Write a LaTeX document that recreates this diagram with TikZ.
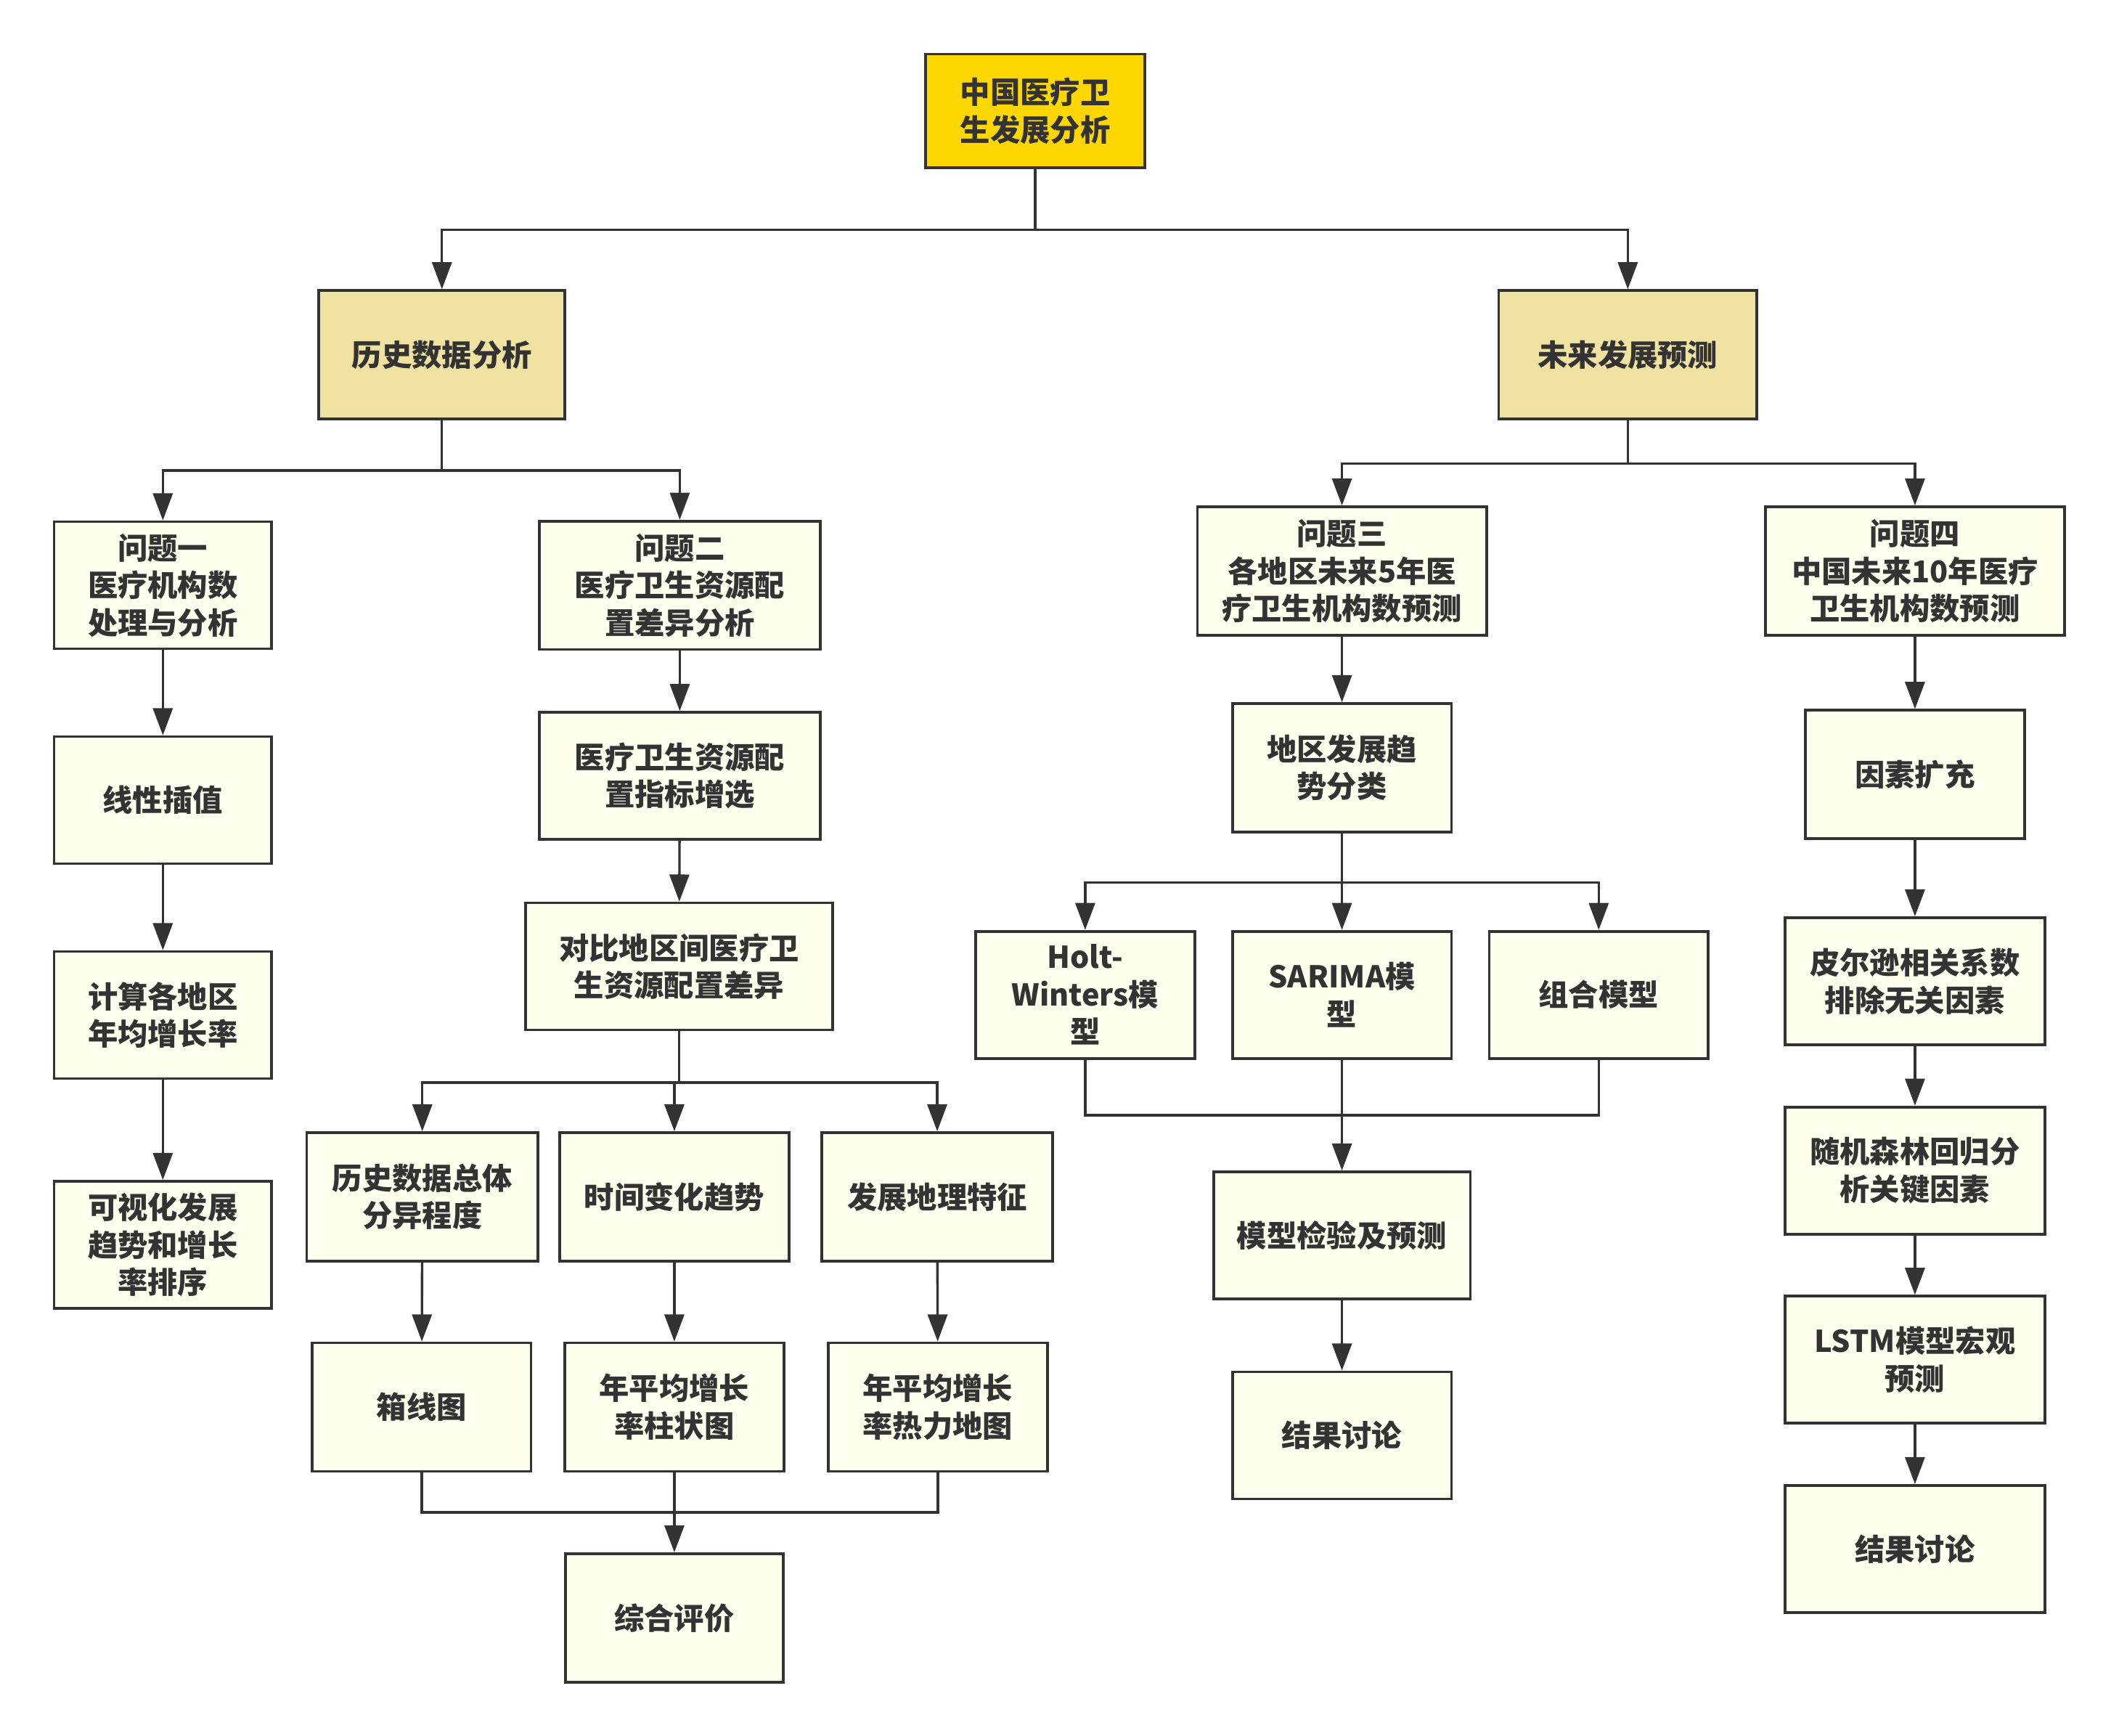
\documentclass[tikz,border=0pt]{standalone}
\usepackage{fontspec}
\newfontfamily\cjk{Noto Sans CJK SC}
\usetikzlibrary{arrows.meta}
\definecolor{ink}{HTML}{333333}
\definecolor{boxfill}{HTML}{FFFFEE}
\definecolor{rootfill}{HTML}{FFD700}
\definecolor{secfill}{HTML}{F0E2A0}
\tikzset{
  box/.style={draw=ink, line width=2pt, fill=boxfill, text=ink, align=center,
    inner sep=0pt, font=\cjk\bfseries\fontsize{22.2}{27.7}\selectfont},
  conn/.style={draw=ink, line width=1.8pt},
  arr/.style={conn, -{Triangle[length=20pt,width=14.5pt]}},
}
\newcommand{\bx}[6][box]{\node[#1, minimum width=#4pt, minimum height=#5pt] (#2) at (#3) {#6};}
\begin{document}
\begin{tikzpicture}[x=1pt,y=-1pt]
\useasboundingbox (0,0) rectangle (1568,1284);
% nodes
\bx[box,fill=rootfill]{root}{766,82}{162}{84}{中国医疗卫\\生发展分析}
\bx[box,fill=secfill]{hist}{327,262.5}{182}{95}{历史数据分析}
\bx[box,fill=secfill]{fut}{1204.5,262.5}{191}{95}{未来发展预测}
\bx{q1}{120.5,433}{161}{94}{问题一\\医疗机构数\\处理与分析}
\bx{q2}{503,433}{208}{95}{问题二\\医疗卫生资源配\\置差异分析}
\bx{lin}{120.5,592}{161}{94}{线性插值}
\bx{calc}{120.5,751}{161}{94}{计算各地区\\年均增长率}
\bx{vis}{120.5,921}{161}{94}{可视化发展\\趋势和增长\\率排序}
\bx{idx}{503,574}{208}{94}{医疗卫生资源配\\置指标增选}
\bx{cmp}{502.5,715}{227}{94}{对比地区间医疗卫\\生资源配置差异}
\bx{hd}{312.5,885.5}{171}{95}{历史数据总体\\分异程度}
\bx{tc}{499,885.5}{170}{95}{时间变化趋势}
\bx{geo}{693.5,885.5}{171}{95}{发展地理特征}
\bx{boxp}{312,1041}{162}{95}{箱线图}
\bx{bar}{499,1041}{162}{95}{年平均增长\\率柱状图}
\bx{heat}{694,1041}{162}{95}{年平均增长\\率热力地图}
\bx{eval}{499,1197}{161}{95}{综合评价}
\bx{q3}{993,422.5}{214}{95}{问题三\\各地区未来5年医\\疗卫生机构数预测}
\bx{q4}{1417,422.5}{221}{95}{问题四\\中国未来10年医疗\\卫生机构数预测}
\bx{trend}{993,568}{162}{95}{地区发展趋\\势分类}
\bx{fac}{1417,573}{162}{95}{因素扩充}
\bx{hw}{803,736}{162}{94}{Holt-\\Winters模\\型}
\bx{sar}{993,736}{162}{94}{SARIMA模\\型}
\bx{comb}{1183,736}{162}{94}{组合模型}
\bx{test}{993,914}{190}{94}{模型检验及预测}
\bx{res1}{993,1062}{162}{94}{结果讨论}
\bx{pear}{1417,726}{192}{94}{皮尔逊相关系数\\排除无关因素}
\bx{rf}{1417,866}{192}{94}{随机森林回归分\\析关键因素}
\bx{lstm}{1417,1006}{192}{94}{LSTM模型宏观\\预测}
\bx{res2}{1417,1146}{192}{94}{结果讨论}
% junctions
\coordinate (j0) at (766,170);
\coordinate (j1) at (327,348);
\coordinate (j2) at (502.5,801);
\coordinate (j3) at (499,1119);
\coordinate (j4) at (1204.5,343);
\coordinate (j5) at (993,653);
\coordinate (j6) at (993,825);
% connectors
\draw[conn] (root) -- (j0);
\draw[arr] (j0) -| (hist);
\draw[arr] (j0) -| (fut);
\draw[conn] (hist) -- (j1);
\draw[arr] (j1) -| (q1);
\draw[arr] (j1) -| (q2);
\draw[arr] (q1) -- (lin);
\draw[arr] (lin) -- (calc);
\draw[arr] (calc) -- (vis);
\draw[arr] (q2) -- (idx);
\draw[arr] (idx) -- (cmp);
\draw[conn] (cmp) -- (j2);
\draw[arr] (j2) -| (hd);
\draw[arr] (j2) -| (tc);
\draw[arr] (j2) -| (geo);
\draw[arr] (hd) -- (boxp);
\draw[arr] (tc) -- (bar);
\draw[arr] (geo) -- (heat);
\draw[conn] (boxp) |- (j3);
\draw[conn] (heat) |- (j3);
\draw[arr] (bar) -- (eval);
\draw[conn] (fut) -- (j4);
\draw[arr] (j4) -| (q3);
\draw[arr] (j4) -| (q4);
\draw[arr] (q3) -- (trend);
\draw[conn] (trend) -- (j5);
\draw[arr] (j5) -| (hw);
\draw[arr] (j5) -- (sar);
\draw[arr] (j5) -| (comb);
\draw[conn] (hw) |- (j6);
\draw[conn] (comb) |- (j6);
\draw[arr] (sar) -- (test);
\draw[arr] (test) -- (res1);
\draw[arr] (q4) -- (fac);
\draw[arr] (fac) -- (pear);
\draw[arr] (pear) -- (rf);
\draw[arr] (rf) -- (lstm);
\draw[arr] (lstm) -- (res2);
\end{tikzpicture}
\end{document}
